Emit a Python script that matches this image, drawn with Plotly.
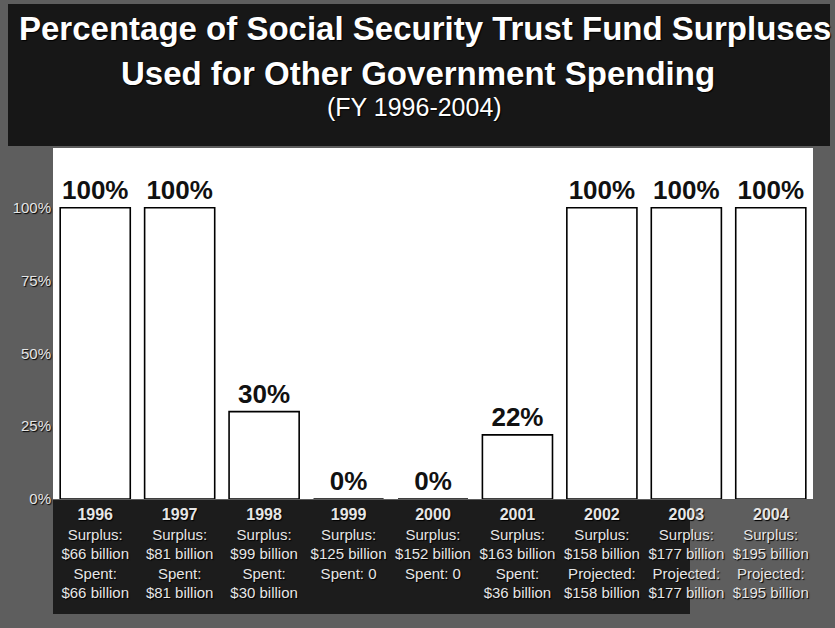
import plotly.graph_objects as go

# Fiscal years and share of each year's trust fund surplus spent elsewhere
years = ["1996", "1997", "1998", "1999", "2000", "2001", "2002", "2003", "2004"]
pct_used = [100, 100, 30, 0, 0, 22, 100, 100, 100]
surplus_bn = [66, 81, 99, 125, 152, 163, 158, 177, 195]
spent_bn = [66, 81, 30, 0, 0, 36, 158, 177, 195]
spent_kind = ["Spent", "Spent", "Spent", "Spent", "Spent", "Spent",
              "Projected", "Projected", "Projected"]
y_ticks = [0, 25, 50, 75, 100]
y_tick_text = ["0%", "25%", "50%", "75%", "100%"]

FONT = "Liberation Sans, Arial, sans-serif"
LIGHT = "#e6e6e6"
HALO = "1px 1px 1px #000000"

PLOT_LEFT, PLOT_RIGHT = 53, 813   # pixel columns of the plotting area
PLOT_TOP, PLOT_BOTTOM = 148, 499  # pixel rows of the plotting area


def paper_x(px):
    """Convert a pixel column of the page into a paper x coordinate."""
    return (px - PLOT_LEFT) / (PLOT_RIGHT - PLOT_LEFT)


def paper_y(px):
    """Convert a pixel row of the page into a paper y coordinate."""
    return (PLOT_BOTTOM - px) / (PLOT_BOTTOM - PLOT_TOP)


def column_label(year, surplus, spent, kind):
    lines = [f"<span style='font-size:16px'><b>{year}</b></span>",
             "Surplus:", f"${surplus} billion"]
    if spent == 0:
        lines.append(f"{kind}: 0")
    else:
        lines += [f"{kind}:", f"${spent} billion"]
    return "<br>".join(lines)


tick_text = [column_label(y, s, p, k)
             for y, s, p, k in zip(years, surplus_bn, spent_bn, spent_kind)]
positions = list(range(len(years)))

fig = go.Figure()
fig.add_trace(go.Bar(
    x=positions,
    y=pct_used,
    width=0.83,
    marker=dict(color="white", line=dict(color="black", width=1.6)),
    text=[f"{v}%" for v in pct_used],
    textposition="outside",
    textfont=dict(family=FONT, size=26, color="#111111", weight="bold"),
    cliponaxis=False,
    hoverinfo="skip",
))

# darker bands behind the heading and the column notes
fig.add_shape(type="rect", xref="paper", yref="paper",
              x0=paper_x(8), x1=paper_x(830), y0=paper_y(146), y1=paper_y(4),
              fillcolor="#171717", line_width=0, layer="below")
fig.add_shape(type="rect", xref="paper", yref="paper",
              x0=paper_x(53), x1=paper_x(690), y0=paper_y(614), y1=paper_y(500),
              fillcolor="#1c1c1c", line_width=0, layer="below")

title_lines = [
    ("Percentage of Social Security Trust Fund Surpluses", 33, "bold", 425, 29),
    ("Used for Other Government Spending", 33, "bold", 418, 74),
    ("(FY 1996-2004)", 25, "normal", 414, 107),
]
for text, size, weight, col, row in title_lines:
    fig.add_annotation(
        text=text, xref="paper", yref="paper", x=paper_x(col), y=paper_y(row),
        xanchor="center", yanchor="middle", showarrow=False,
        font=dict(family=FONT, size=size, color="white", weight=weight,
                  shadow=HALO),
    )

fig.update_layout(
    width=835, height=628,
    margin=dict(l=PLOT_LEFT, r=835 - PLOT_RIGHT, t=PLOT_TOP, b=628 - PLOT_BOTTOM),
    paper_bgcolor="#5e5e5e",
    plot_bgcolor="white",
    showlegend=False,
    bargap=0.17,
)
fig.update_xaxes(
    range=[-0.5, len(years) - 0.5],
    tickmode="array", tickvals=positions, ticktext=tick_text,
    tickfont=dict(family=FONT, size=15, color=LIGHT, shadow=HALO),
    showgrid=False, zeroline=False, showline=False, ticks="",
    ticklabelstandoff=5, fixedrange=True,
)
fig.update_yaxes(
    range=[0, 120.5],
    tickmode="array", tickvals=y_ticks, ticktext=y_tick_text,
    tickfont=dict(family=FONT, size=15, color=LIGHT, shadow=HALO),
    showgrid=False, zeroline=False, showline=False, ticks="",
    ticklabelstandoff=1, fixedrange=True,
)

fig.write_html("out.html")
